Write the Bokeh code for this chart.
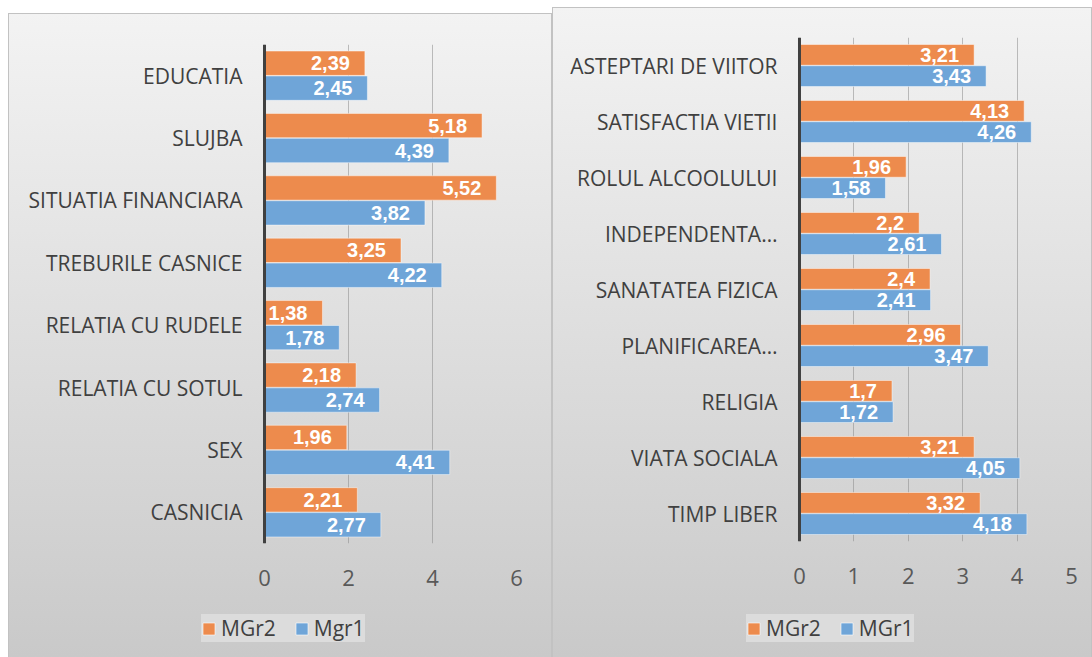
from bokeh.plotting import figure
from bokeh.models import (ColumnDataSource, FactorRange, Range1d, FixedTicker,
                          LabelSet, Legend, LegendItem, Spacer, Span, Grid)
from bokeh.layouts import row, column
from bokeh.transform import dodge
from bokeh.core.properties import value
from bokeh.embed import file_html
from bokeh.resources import INLINE

# ---------------- data ----------------
left_categories = ["EDUCATIA", "SLUJBA", "SITUATIA FINANCIARA", "TREBURILE CASNICE",
                   "RELATIA CU RUDELE", "RELATIA CU SOTUL", "SEX", "CASNICIA"]
left_mgr2 = [2.39, 5.18, 5.52, 3.25, 1.38, 2.18, 1.96, 2.21]
left_mgr1 = [2.45, 4.39, 3.82, 4.22, 1.78, 2.74, 4.41, 2.77]
left_ticks = [0, 2, 4, 6]
left_series = ["MGr2", "Mgr1"]

right_categories = ["ASTEPTARI DE VIITOR", "SATISFACTIA VIETII", "ROLUL ALCOOLULUI",
                    "INDEPENDENTA\u2026", "SANATATEA FIZICA", "PLANIFICAREA\u2026",
                    "RELIGIA", "VIATA SOCIALA", "TIMP LIBER"]
right_mgr2 = [3.21, 4.13, 1.96, 2.2, 2.4, 2.96, 1.7, 3.21, 3.32]
right_mgr1 = [3.43, 4.26, 1.58, 2.61, 2.41, 3.47, 1.72, 4.05, 4.18]
right_ticks = [0, 1, 2, 3, 4, 5]
right_series = ["MGr2", "MGr1"]

ORANGE = "#ED8B4D"
BLUE = "#6FA5D8"
FONT = "Open Sans"
BOLD_FONT = "Liberation Sans"
BORDER = "#c2c2c2"


def fmt(v):
    return f"{v:g}".replace(".", ",")


def panel(cats, v2, v1, ticks, names, width, top_gap, main_h, legend_h,
          borders, x_start, bar_h, off, legend_loc):
    bl, br, bt, bb = borders
    src = ColumnDataSource(dict(cat=cats, v2=v2, v1=v1, zero=[0] * len(cats),
                                t2=[fmt(v) for v in v2], t1=[fmt(v) for v in v1]))
    p = figure(width=width, height=main_h,
               output_backend="svg", toolbar_location=None,
               y_range=FactorRange(*list(reversed(cats))),
               x_range=Range1d(x_start, ticks[-1]), y_axis_location=None,
               min_border_left=bl, min_border_right=br, min_border_top=bt, min_border_bottom=bb,
               styles={"background": "linear-gradient(#f3f3f3, #cdcdcd)",
                       "box-shadow": f"inset 1px 0 0 {BORDER}, inset -1px 0 0 {BORDER}, inset 0 1px 0 {BORDER}"})
    p.border_fill_color = None
    p.background_fill_color = None
    p.outline_line_color = None

    p.xgrid.ticker = FixedTicker(ticks=ticks)
    p.xgrid.grid_line_color = "#8c8c8c"
    p.xgrid.grid_line_alpha = 0.55
    p.ygrid.grid_line_color = None

    p.hbar(y=dodge("cat", off, range=p.y_range), right="v2", left=0, height=bar_h,
           source=src, fill_color=ORANGE, line_color="white", line_alpha=0.45, line_width=1)
    p.hbar(y=dodge("cat", -off, range=p.y_range), right="v1", left=0, height=bar_h,
           source=src, fill_color=BLUE, line_color="white", line_alpha=0.45, line_width=1)

    # value axis baseline at 0
    p.add_layout(Span(location=0, dimension="height", line_color="#404040", line_width=3))

    # category labels
    p.add_layout(LabelSet(x="zero", y="cat", text="cat", source=src,
                          text_align="right", text_baseline="middle", x_offset=-22,
                          text_color="#404040", text_font=value(FONT), text_font_size="21px"))

    for col, tcol, sgn in (("v2", "t2", 1), ("v1", "t1", -1)):
        p.add_layout(LabelSet(x=col, y=dodge("cat", sgn * off, range=p.y_range), text=tcol,
                              source=src, text_align="right", text_baseline="middle",
                              x_offset=-15, text_color="white", text_font=value(BOLD_FONT),
                              text_font_style="bold", text_font_size="20px"))

    p.xaxis.ticker = FixedTicker(ticks=ticks)
    p.xaxis.axis_line_color = None
    p.xaxis.major_tick_line_color = None
    p.xaxis.minor_tick_line_color = None
    p.xaxis.major_label_standoff = 20
    p.xaxis.major_label_text_font = FONT
    p.xaxis.major_label_text_font_size = "22px"
    p.xaxis.major_label_text_color = "#595959"

    # legend strip (continues the panel's background below the axis)
    q = figure(width=width, height=legend_h, output_backend="svg", toolbar_location=None,
               x_range=Range1d(-20, -19), y_range=FactorRange(*list(reversed(cats))),
               x_axis_location=None, y_axis_location=None,
               min_border_left=bl, min_border_right=br, min_border_top=0, min_border_bottom=0,
               styles={"background": "linear-gradient(#cdcdcd, #c9c9c9)",
                       "box-shadow": f"inset 1px 0 0 {BORDER}, inset -1px 0 0 {BORDER}"})
    q.border_fill_color = None
    q.background_fill_color = None
    q.outline_line_color = None
    for g in q.select(type=Grid):
        g.visible = False
    k2 = q.hbar(y="cat", right="v2", left=0, height=bar_h, source=src, visible=False,
                fill_color=ORANGE, line_color="white", line_alpha=0.6, line_width=1)
    k1 = q.hbar(y="cat", right="v1", left=0, height=bar_h, source=src, visible=False,
                fill_color=BLUE, line_color="white", line_alpha=0.6, line_width=1)
    legend = Legend(items=[LegendItem(label=names[0], renderers=[k2]),
                           LegendItem(label=names[1], renderers=[k1])],
                    orientation="horizontal", location=legend_loc,
                    background_fill_color="#dcdcdc", background_fill_alpha=1,
                    inactive_fill_alpha=0,
                    border_line_color=None, padding=11, margin=0, spacing=18,
                    label_standoff=5, glyph_width=15, glyph_height=15,
                    label_text_font=FONT, label_text_font_size="21px",
                    label_text_color="#404040")
    q.add_layout(legend, "center")

    return column(Spacer(width=width, height=top_gap), p, q)


left = panel(left_categories, left_mgr2, left_mgr1, left_ticks, left_series,
             544, 13, 587, 57, (8, 36, 31, 57), -5.905, 0.39, 0.2, (185, 15))
right = panel(right_categories, right_mgr2, right_mgr1, right_ticks, right_series,
              540, 7, 593, 57, (8, 21, 30, 59), -4.393, 0.37, 0.19, (186, 15))

layout = row(Spacer(width=8, height=5), left, right)

open("out.html", "w").write(file_html(layout, INLINE))
